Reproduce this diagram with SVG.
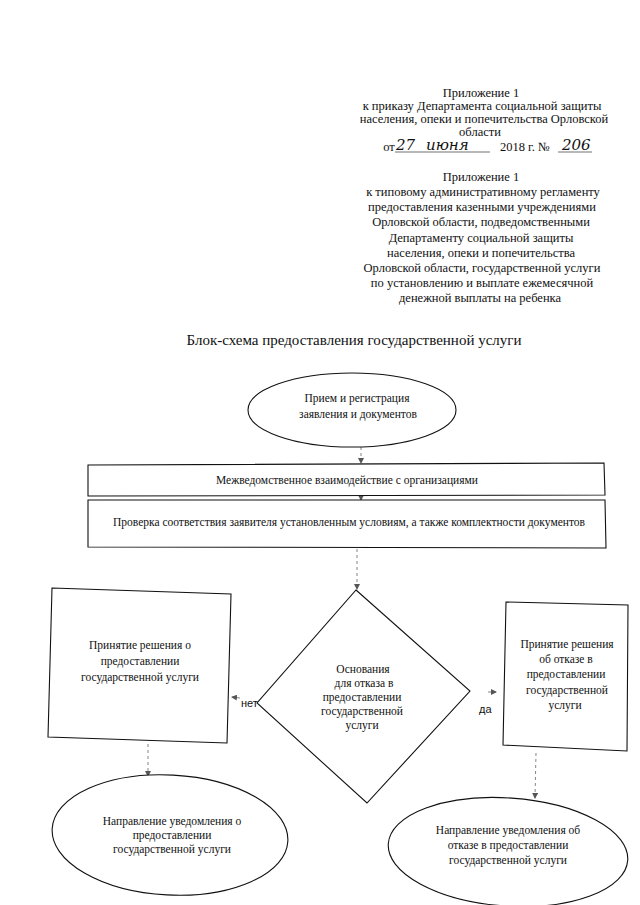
<svg xmlns="http://www.w3.org/2000/svg" width="640" height="905" viewBox="0 0 640 905">
<defs>
<style>
text{font-family:"Liberation Serif","Times New Roman",serif;fill:#111;}
.hd{font-size:12.5px;text-anchor:middle;}
.hw{font-family:"DejaVu Serif","Liberation Serif",serif;font-style:italic;font-size:15px;}
.tt{font-size:15px;text-anchor:middle;}
.nt{font-size:11.5px;text-anchor:middle;}
.lb{font-family:"Liberation Sans",Arial,sans-serif;font-size:11px;}
.shape{fill:#fff;stroke:#111;stroke-width:1.1;}
.con{stroke:#777;stroke-width:0.9;fill:none;stroke-dasharray:3 3;}
.solid{stroke:#777;stroke-width:0.9;fill:none;}
</style>
<marker id="ah" markerWidth="6" markerHeight="6" refX="5" refY="3" orient="auto" markerUnits="userSpaceOnUse">
<path d="M0,0 L6,3 L0,6 z" fill="#555"/>
</marker>
</defs>
<rect width="640" height="905" fill="#fff"/>

<g id="header1">
<text class="hd" x="481" y="97">Приложение 1</text>
<text class="hd" x="482" y="110">к приказу Департамента социальной защиты</text>
<text class="hd" x="484" y="123">населения, опеки и попечительства Орловской</text>
<text class="hd" x="480" y="136">области</text>
<text class="hd" x="389" y="151">от</text>
<text class="hw" x="396" y="150">27</text>
<line x1="395" y1="152" x2="490" y2="152" stroke="#333" stroke-width="0.7"/>
<text class="hw" x="426" y="150">июня</text>
<text class="hd" x="525" y="151">2018 г. №</text>
<text class="hw" x="562" y="150">206</text>
<line x1="558" y1="152" x2="592" y2="152" stroke="#333" stroke-width="0.7"/>
</g>

<g id="header2">
<text class="hd" x="481" y="181">Приложение 1</text>
<text class="hd" x="483" y="196">к типовому административному регламенту</text>
<text class="hd" x="482" y="211">предоставления казенными учреждениями</text>
<text class="hd" x="481" y="226">Орловской области, подведомственными</text>
<text class="hd" x="481" y="242">Департаменту социальной защиты</text>
<text class="hd" x="481" y="257">населения, опеки и попечительства</text>
<text class="hd" x="482" y="272">Орловской области, государственной услуги</text>
<text class="hd" x="482" y="287">по установлению и выплате ежемесячной</text>
<text class="hd" x="480" y="302">денежной выплаты на ребенка</text>
</g>

<text class="tt" x="354" y="345">Блок-схема предоставления государственной услуги</text>

<g id="connectors">
<line class="con" x1="361" y1="447" x2="361" y2="463" marker-end="url(#ah)"/>
<line class="solid" x1="361" y1="494" x2="361" y2="500" marker-end="url(#ah)"/>
<line class="con" x1="357" y1="549" x2="357" y2="589" marker-end="url(#ah)"/>
<line class="solid" x1="240" y1="698" x2="232" y2="697" marker-end="url(#ah)"/>
<line class="solid" x1="488" y1="692" x2="496" y2="692" marker-end="url(#ah)"/>
<line class="con" x1="148" y1="744" x2="148" y2="776" marker-end="url(#ah)"/>
<line class="con" x1="536" y1="753" x2="535" y2="798" stroke-dasharray="1.5 2.5" marker-end="url(#ah)"/>
<text class="lb" x="241" y="707">нет</text>
<text class="lb" x="479" y="713">да</text>
</g>

<g id="n_start">
<ellipse class="shape" cx="352" cy="410" rx="104" ry="37"/>
<text class="nt" x="357" y="402">Прием и регистрация</text>
<text class="nt" x="358" y="418">заявления и документов</text>
</g>

<g id="n_inter">
<polygon class="shape" points="88,465 604,463 605,495 88,496"/>
<text class="nt" x="347" y="484">Межведомственное взаимодействие с организациями</text>
</g>

<g id="n_check">
<polygon class="shape" points="88,500 605,500 606,548 88,547"/>
<text class="nt" x="349" y="526">Проверка соответствия заявителя установленным условиям, а также комплектности документов</text>
</g>

<g id="n_decision">
<polygon class="shape" points="356,590 470,691 367,803 257,703"/>
<text class="nt" x="363" y="673">Основания</text>
<text class="nt" x="364" y="687">для отказа в</text>
<text class="nt" x="362" y="701">предоставлении</text>
<text class="nt" x="362" y="715">государственной</text>
<text class="nt" x="362" y="729">услуги</text>
</g>

<g id="n_grant">
<polygon class="shape" points="52,588 231,594 227,743 48,737"/>
<text class="nt" x="140" y="649">Принятие решения о</text>
<text class="nt" x="140" y="665">предоставлении</text>
<text class="nt" x="140" y="681">государственной услуги</text>
</g>

<g id="n_refuse">
<polygon class="shape" points="506,602 628,605 627,751 503,745"/>
<text class="nt" x="567" y="648">Принятие решения</text>
<text class="nt" x="566" y="663">об отказе в</text>
<text class="nt" x="566" y="678">предоставлении</text>
<text class="nt" x="567" y="694">государственной</text>
<text class="nt" x="565" y="709">услуги</text>
</g>

<g id="n_notify_grant">
<ellipse class="shape" cx="170" cy="835" rx="118" ry="60" transform="rotate(3 170 835)"/>
<text class="nt" x="172" y="825">Направление уведомления о</text>
<text class="nt" x="172" y="839">предоставлении</text>
<text class="nt" x="172" y="853">государственной услуги</text>
</g>

<g id="n_notify_refuse">
<ellipse class="shape" cx="508" cy="852" rx="120" ry="54" transform="rotate(4 508 852)"/>
<text class="nt" x="508" y="834">Направление уведомления об</text>
<text class="nt" x="508" y="849">отказе в предоставлении</text>
<text class="nt" x="508" y="864">государственной услуги</text>
</g>
</svg>
